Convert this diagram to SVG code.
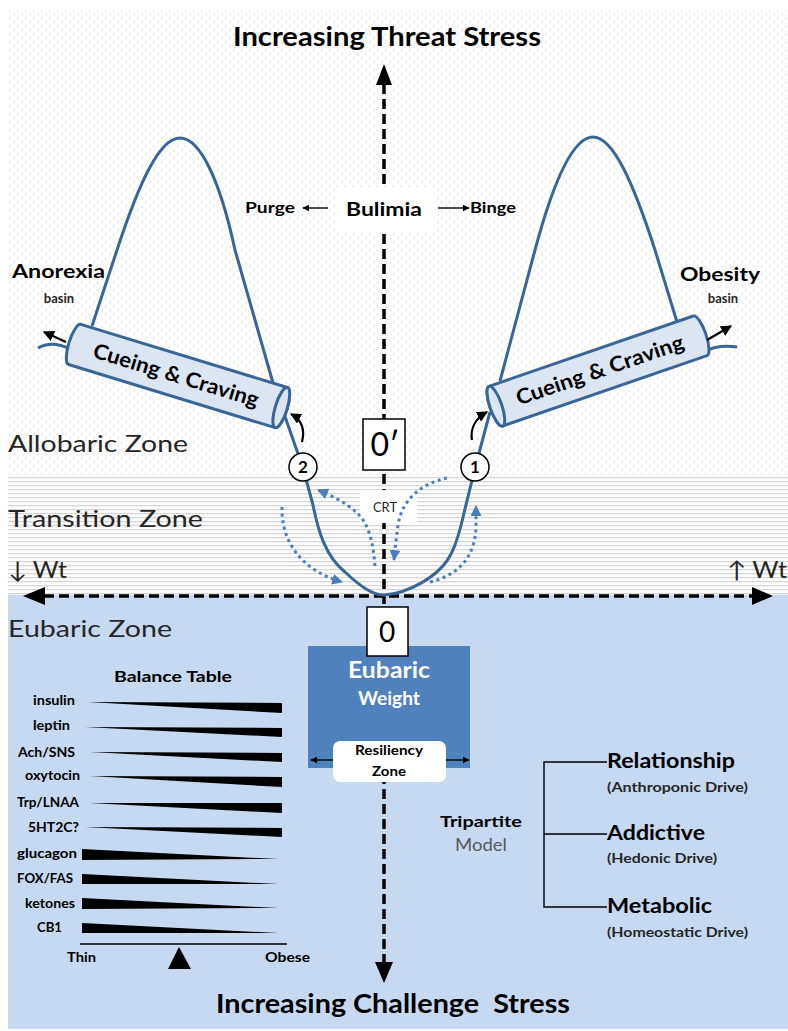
<svg xmlns="http://www.w3.org/2000/svg" width="788" height="1031" viewBox="0 0 788 1031">
<defs>
<pattern id="dots" width="8" height="8" patternUnits="userSpaceOnUse">
<path d="M2.6 0.8 L1 2.4 L2.6 4 M5.4 4.8 L7 6.4 L5.4 8" stroke="#d4d4d4" stroke-width="0.7" fill="none"/>
</pattern>
<pattern id="hlines" width="8" height="4" patternUnits="userSpaceOnUse">
<rect y="1" width="8" height="1.3" fill="#d6d6d6"/>
</pattern>
<marker id="ah" viewBox="0 0 10 10" refX="9" refY="5" markerWidth="11" markerHeight="11" markerUnits="userSpaceOnUse" orient="auto"><path d="M0,0 L10,5 L0,10 Z" fill="#000"/></marker>
<marker id="ahs" viewBox="0 0 10 10" refX="9" refY="5" markerWidth="7" markerHeight="7" markerUnits="userSpaceOnUse" orient="auto"><path d="M0,0 L10,5 L0,10 Z" fill="#000"/></marker>
<marker id="ahb" viewBox="0 0 10 10" refX="9" refY="5" markerWidth="11" markerHeight="11" markerUnits="userSpaceOnUse" orient="auto"><path d="M0,0 L10,5 L0,10 Z" fill="#4a7ebb"/></marker>
<style>
text{font-family:Lato,"Liberation Sans",sans-serif;fill:#000}
.b{font-weight:bold}
.zone{font-size:23px;fill:#262626}
.curve{fill:none;stroke:#3a6597;stroke-width:3;stroke-linejoin:round}
.cyl{fill:#dce6f2;stroke:#3a6597;stroke-width:3}
.axis{fill:none;stroke:#000;stroke-width:3.5;stroke-dasharray:10 5}
.dot{fill:none;stroke:#4a7ebb;stroke-width:3;stroke-dasharray:3 3.6}
.blk{fill:none;stroke:#000;stroke-width:2.2}
.thin{fill:none;stroke:#000;stroke-width:1.4}
.circ{fill:#fff;stroke:#000;stroke-width:1.5}
.lbl{font-size:13px;font-weight:bold}
.wedge{fill:#000}
.drv{font-size:13.5px;font-weight:bold;fill:#262626}
.big{font-size:21px;font-weight:bold}
</style>
</defs>

<g id="background">
<rect width="788" height="1031" fill="#fff"/>
<rect x="8" y="10" width="780" height="465" fill="url(#dots)"/>
<rect x="8" y="475" width="780" height="120" fill="#fff"/>
<rect x="8" y="475" width="780" height="120" fill="url(#hlines)"/>
<rect x="8" y="595" width="780" height="434" fill="#c6d9f0"/>
</g>

<g id="zone-labels">
<text class="zone" x="8" y="452" textLength="180" lengthAdjust="spacingAndGlyphs">Allobaric Zone</text>
<text class="zone" x="8" y="527" textLength="195" lengthAdjust="spacingAndGlyphs">Transition Zone</text>
<text class="zone" x="8" y="578" textLength="59" lengthAdjust="spacingAndGlyphs">↓ Wt</text>
<text class="zone" x="727" y="578" textLength="60" lengthAdjust="spacingAndGlyphs">↑ Wt</text>
<text class="zone" x="8" y="637" textLength="164" lengthAdjust="spacingAndGlyphs">Eubaric Zone</text>
</g>

<g id="titles">
<text class="b" x="233" y="46" font-size="27" textLength="308" lengthAdjust="spacingAndGlyphs">Increasing Threat Stress</text>
<text class="b" x="216" y="1013" font-size="27" textLength="354" lengthAdjust="spacingAndGlyphs" xml:space="preserve">Increasing Challenge  Stress</text>
</g>

<g id="connectors">
<line class="axis" x1="384" y1="84" x2="384" y2="962"/>
<line class="axis" x1="44" y1="596" x2="754" y2="596"/>
<polygon points="384,64 376,85 392,85" fill="#000"/>
<polygon points="384,983 375,962 393,962" fill="#000"/>
<polygon points="23,596 45,587 45,605" fill="#000"/>
<polygon points="773,596 752,587 752,605" fill="#000"/>
</g>

<g id="bulimia">
<rect x="336" y="188" width="98" height="44" fill="#fff"/>
<text class="b" x="346" y="216" font-size="19" textLength="76" lengthAdjust="spacingAndGlyphs">Bulimia</text>
<text class="b" x="245" y="213" font-size="15" textLength="50" lengthAdjust="spacingAndGlyphs">Purge</text>
<text class="b" x="470" y="213" font-size="15" textLength="46" lengthAdjust="spacingAndGlyphs">Binge</text>
<line class="thin" x1="328" y1="208" x2="303" y2="208" marker-end="url(#ahs)"/>
<line class="thin" x1="438" y1="208" x2="469" y2="208" marker-end="url(#ahs)"/>
</g>

<g id="curves">
<path class="curve" d="M92,326 L117,250 C140,180 160,138 180,138 C200,138 220,180 235,250 L273,383"/>
<path class="curve" d="M500,381 L535,250 C553,183 573,137 593,137 C613,137 633,182 655,250 L677,322"/>
<path class="curve" d="M282,408 L303,468 L313,505 C318,530 325,556 345,572 C360,586 372,595 384,595 C405,594 440,578 452,552 C460,535 462,520 466,505 L475,468 L490,412"/>
<path class="curve" d="M38,348 Q52,340 70,349"/>
<path class="curve" d="M703,352 Q718,344 737,347"/>
</g>

<g id="cyl-left" transform="translate(178,376) rotate(17)">
<path class="cyl" d="M-108,-21 L108,-21 A6 21 0 0 1 108,21 L-108,21 A6 21 0 0 1 -108,-21 Z"/>
<ellipse class="cyl" cx="108" cy="0" rx="6" ry="21"/>
<text class="b" x="-2" y="7" font-size="21" text-anchor="middle" textLength="172" lengthAdjust="spacingAndGlyphs">Cueing &amp; Craving</text>
</g>

<g id="cyl-right" transform="translate(598,371) rotate(-19)">
<path class="cyl" d="M-108,-21 L108,-21 A6 21 0 0 1 108,21 L-108,21 A6 21 0 0 1 -108,-21 Z"/>
<ellipse class="cyl" cx="-108" cy="0" rx="6" ry="21"/>
<text class="b" x="2" y="7" font-size="21" text-anchor="middle" textLength="176" lengthAdjust="spacingAndGlyphs">Cueing &amp; Craving</text>
</g>

<g id="basin-labels">
<text class="b" x="12" y="278" font-size="19" textLength="93" lengthAdjust="spacingAndGlyphs">Anorexia</text>
<text class="b" x="59" y="303" font-size="13" text-anchor="middle" fill="#262626" style="fill:#262626">basin</text>
<text class="b" x="680" y="281" font-size="19" textLength="80" lengthAdjust="spacingAndGlyphs">Obesity</text>
<text class="b" x="723" y="303" font-size="13" text-anchor="middle" style="fill:#262626">basin</text>
</g>

<g id="flow-arrows">
<line class="blk" x1="66" y1="342" x2="44" y2="332" marker-end="url(#ah)"/>
<line class="blk" x1="707" y1="340" x2="731" y2="326" marker-end="url(#ah)"/>
<path class="blk" d="M302,442 C305,430 302,420 291,414" marker-end="url(#ah)"/>
<path class="blk" d="M472,440 C470,428 476,418 487,412" marker-end="url(#ah)"/>
</g>

<g id="crt">
<rect x="360" y="490" width="57" height="33" fill="#fff"/>
<text x="385" y="512" font-size="13" text-anchor="middle" style="fill:#262626">CRT</text>
<path class="dot" d="M375,566 C373,540 368,523 357,513 C347,503 330,495 318,490" marker-end="url(#ahb)"/>
<path class="dot" d="M282,507 C281,540 300,570 342,582" marker-end="url(#ahb)"/>
<path class="dot" d="M447,478 C420,484 402,500 398,525 C396,540 395,550 394,560" marker-end="url(#ahb)"/>
<path class="dot" d="M430,582 C460,575 476,555 476,525 L476,506" marker-end="url(#ahb)"/>
</g>

<g id="circle-2">
<circle class="circ" cx="303" cy="467" r="14"/>
<text class="b" x="303" y="473" font-size="17" text-anchor="middle">2</text>
</g>
<g id="circle-1">
<circle class="circ" cx="475" cy="467" r="14"/>
<text class="b" x="475" y="473" font-size="17" text-anchor="middle">1</text>
</g>

<g id="zero-prime">
<rect x="363" y="419" width="42" height="51" fill="#fff" stroke="#000" stroke-width="1.5"/>
<text x="385" y="456" font-size="32" text-anchor="middle">0′</text>
</g>

<g id="eubaric-weight">
<rect x="308" y="646" width="162" height="122" fill="#4f81bd"/>
<text class="b" x="389" y="678" font-size="23" text-anchor="middle" style="fill:#fff" textLength="82" lengthAdjust="spacingAndGlyphs">Eubaric</text>
<text class="b" x="389" y="705" font-size="18" text-anchor="middle" style="fill:#fff" textLength="62" lengthAdjust="spacingAndGlyphs">Weight</text>
<line class="thin" x1="333" y1="760" x2="311" y2="760" marker-end="url(#ahs)"/>
<line class="thin" x1="446" y1="760" x2="469" y2="760" marker-end="url(#ahs)"/>
<rect x="333" y="741" width="113" height="41" rx="7" fill="#fff"/>
<text class="b" x="389" y="755" font-size="14" text-anchor="middle" textLength="68" lengthAdjust="spacingAndGlyphs">Resiliency</text>
<text class="b" x="389" y="776" font-size="14" text-anchor="middle" textLength="34" lengthAdjust="spacingAndGlyphs">Zone</text>
</g>

<g id="zero">
<rect x="367" y="607" width="41" height="49" fill="#fff" stroke="#000" stroke-width="1.5"/>
<text x="387" y="642" font-size="28" text-anchor="middle">0</text>
</g>

<g id="balance-table">
<text class="b" x="173" y="682" font-size="16" text-anchor="middle" textLength="118" lengthAdjust="spacingAndGlyphs">Balance Table</text>
<text class="lbl" x="33" y="705" textLength="42" lengthAdjust="spacingAndGlyphs">insulin</text>
<polygon class="wedge" points="88,702 282,703 282,713"/>
<text class="lbl" x="33" y="730" textLength="37" lengthAdjust="spacingAndGlyphs">leptin</text>
<polygon class="wedge" points="85,727 282,728 282,737"/>
<text class="lbl" x="18" y="757" textLength="57" lengthAdjust="spacingAndGlyphs">Ach/SNS</text>
<polygon class="wedge" points="90,752 282,753 282,762"/>
<text class="lbl" x="25" y="780" textLength="55" lengthAdjust="spacingAndGlyphs">oxytocin</text>
<polygon class="wedge" points="90,776 282,777 282,787"/>
<text class="lbl" x="17" y="807" textLength="62" lengthAdjust="spacingAndGlyphs">Trp/LNAA</text>
<polygon class="wedge" points="90,803 282,803 282,813"/>
<text class="lbl" x="28" y="832" textLength="51" lengthAdjust="spacingAndGlyphs">5HT2C?</text>
<polygon class="wedge" points="85,827 282,828 282,837"/>
<text class="lbl" x="17" y="858" textLength="60" lengthAdjust="spacingAndGlyphs">glucagon</text>
<polygon class="wedge" points="82,849 82,860 278,859"/>
<text class="lbl" x="17" y="883" textLength="56" lengthAdjust="spacingAndGlyphs">FOX/FAS</text>
<polygon class="wedge" points="82,874 82,884 278,884"/>
<text class="lbl" x="25" y="908" textLength="50" lengthAdjust="spacingAndGlyphs">ketones</text>
<polygon class="wedge" points="82,898 82,909 278,908"/>
<text class="lbl" x="37" y="932" textLength="25" lengthAdjust="spacingAndGlyphs">CB1</text>
<polygon class="wedge" points="82,923 82,933 278,933"/>
<line x1="80" y1="944" x2="287" y2="944" stroke="#000" stroke-width="1.5"/>
<polygon points="179,947 168,969 191,969" fill="#000"/>
<text class="b" x="67" y="962" font-size="14" textLength="29" lengthAdjust="spacingAndGlyphs">Thin</text>
<text class="b" x="265" y="962" font-size="14" textLength="45" lengthAdjust="spacingAndGlyphs">Obese</text>
</g>

<g id="tripartite">
<text class="b" x="481" y="827" font-size="16" text-anchor="middle" textLength="82" lengthAdjust="spacingAndGlyphs">Tripartite</text>
<text x="481" y="851" font-size="17" text-anchor="middle" style="fill:#595959" textLength="52" lengthAdjust="spacingAndGlyphs">Model</text>
<path class="thin" d="M607,762 L544,762 L544,907 L607,907 M544,834 L607,834"/>
<text class="big" x="607" y="768" textLength="128" lengthAdjust="spacingAndGlyphs">Relationship</text>
<text class="drv" x="607" y="792" textLength="141" lengthAdjust="spacingAndGlyphs">(Anthroponic Drive)</text>
<text class="big" x="607" y="840" textLength="98" lengthAdjust="spacingAndGlyphs">Addictive</text>
<text class="drv" x="607" y="863" textLength="110" lengthAdjust="spacingAndGlyphs">(Hedonic Drive)</text>
<text class="big" x="607" y="913" textLength="105" lengthAdjust="spacingAndGlyphs">Metabolic</text>
<text class="drv" x="607" y="937" textLength="141" lengthAdjust="spacingAndGlyphs">(Homeostatic Drive)</text>
</g>
</svg>
